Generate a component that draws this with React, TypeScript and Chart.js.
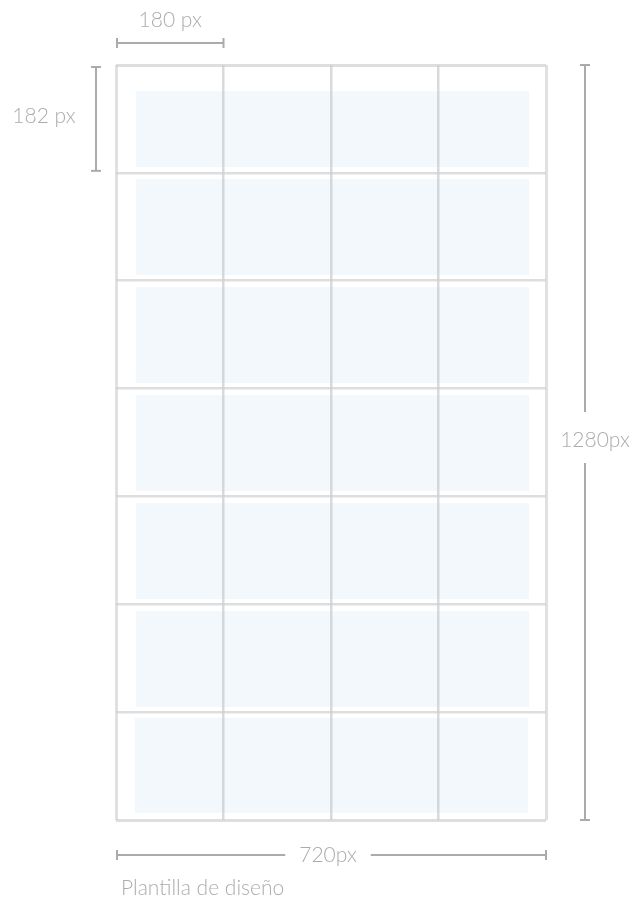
import React, { useEffect, useRef } from "react";
import { Chart, registerables } from "chart.js";

Chart.register(...registerables);

// Design units (px of the 720x1280 template)
const columnLines = [0, 180, 360, 540, 720];
const rowLines = [0, 182.86, 365.71, 548.57, 731.43, 914.29, 1097.14, 1280];

// Light-blue content bands, one per row (design units)
const bandLeft = [33.5, 33.5, 33.5, 33.5, 33.5, 33.5, 31.8];
const bandRight = [691.5, 691.5, 691.5, 691.5, 691.5, 691.5, 689.8];
const bandTop = [44.1, 193.3, 376.4, 559.5, 742.6, 925.7, 1107.1];
const bandBottom = [172.9, 356.0, 539.1, 722.2, 905.3, 1088.4, 1268.1];

// Dimension annotations
const cellWidthLabel = "180 px";
const cellHeightLabel = "182 px";
const totalHeightLabel = "1280px";
const totalWidthLabel = "720px";
const cellWidthSpan = [0, 180];
const cellHeightSpan = [0, 182.86];
const totalWidthSpan = [0, 720];
const totalHeightSpan = [0, 1280];
const captionText = "Plantilla de diseño";

const BAND_COLOR = "#f2f8fb";
const DIM_COLOR = "#ababab";
const TEXT_COLOR = "#acacac";
const FONT = "300 21px Lato";

const bandsPlugin = {
  id: "bands",
  beforeDraw(chart: any) {
    const { ctx, scales } = chart;
    const x = scales.x;
    const y = scales.y;
    ctx.save();
    ctx.fillStyle = BAND_COLOR;
    for (let i = 0; i < bandTop.length; i++) {
      const l = x.getPixelForValue(bandLeft[i]);
      const r = x.getPixelForValue(bandRight[i]);
      const t = y.getPixelForValue(bandTop[i]);
      const b = y.getPixelForValue(bandBottom[i]);
      ctx.fillRect(l, t, r - l, b - t);
    }
    ctx.restore();
  },
};

function hLine(ctx: any, x1: number, x2: number, y: number) {
  ctx.beginPath();
  ctx.moveTo(x1, y);
  ctx.lineTo(x2, y);
  ctx.stroke();
}
function vLine(ctx: any, x: number, y1: number, y2: number) {
  ctx.beginPath();
  ctx.moveTo(x, y1);
  ctx.lineTo(x, y2);
  ctx.stroke();
}

const dimensionsPlugin = {
  id: "dimensions",
  afterDraw(chart: any) {
    const { ctx, scales, chartArea } = chart;
    const x = scales.x;
    const y = scales.y;
    ctx.save();
    ctx.strokeStyle = DIM_COLOR;
    ctx.lineWidth = 2;
    ctx.fillStyle = TEXT_COLOR;
    ctx.font = FONT;
    ctx.textBaseline = "middle";
    ctx.textAlign = "center";
    const cap = 5;

    // top: cell width
    {
      const x1 = x.getPixelForValue(cellWidthSpan[0]) + 1;
      const x2 = x.getPixelForValue(cellWidthSpan[1]);
      const yy = chartArea.top - 22;
      hLine(ctx, x1, x2, yy);
      vLine(ctx, x1, yy - cap, yy + cap);
      vLine(ctx, x2, yy - cap, yy + cap);
      ctx.fillText(cellWidthLabel, (x1 + x2) / 2, chartArea.top - 45);
    }
    // left: cell height
    {
      const y1 = y.getPixelForValue(cellHeightSpan[0]) + 2;
      const y2 = y.getPixelForValue(cellHeightSpan[1]) - 2;
      const xx = chartArea.left - 20;
      vLine(ctx, xx, y1, y2);
      hLine(ctx, xx - cap, xx + cap, y1);
      hLine(ctx, xx - cap, xx + cap, y2);
      ctx.fillText(cellHeightLabel, chartArea.left - 72, (y1 + y2) / 2 - 3);
    }
    // right: total height
    {
      const y1 = y.getPixelForValue(totalHeightSpan[0]);
      const y2 = y.getPixelForValue(totalHeightSpan[1]);
      const xx = chartArea.right + 39;
      const mid = 440;
      vLine(ctx, xx, y1, mid - 28);
      vLine(ctx, xx, mid + 23, y2);
      hLine(ctx, xx - cap, xx + cap, y1);
      hLine(ctx, xx - cap, xx + cap, y2);
      ctx.fillText(totalHeightLabel, xx + 10, mid);
    }
    // bottom: total width
    {
      const x1 = x.getPixelForValue(totalWidthSpan[0]) + 1;
      const x2 = x.getPixelForValue(totalWidthSpan[1]);
      const yy = chartArea.bottom + 35;
      const mid = 328;
      const w = ctx.measureText(totalWidthLabel).width;
      hLine(ctx, x1, mid - w / 2 - 14, yy);
      hLine(ctx, mid + w / 2 + 14, x2, yy);
      vLine(ctx, x1, yy - cap, yy + cap);
      vLine(ctx, x2, yy - cap, yy + cap);
      ctx.fillText(totalWidthLabel, mid, yy);
    }
    // caption
    ctx.textAlign = "left";
    ctx.fillText(captionText, chartArea.left + 5, chartArea.bottom + 68);
    ctx.restore();
  },
};

function gridWidth(ctx: any, count: number) {
  return ctx.index === 0 || ctx.index === count - 1 ? 3 : 2.5;
}

export default function App() {
  const ref = useRef<HTMLCanvasElement | null>(null);
  useEffect(() => {
    document.body.style.margin = "0";
    if (!ref.current) return;
    const chart = new Chart(ref.current, {
      type: "scatter",
      data: { datasets: [] },
      options: {
        animation: false,
        responsive: false,
        maintainAspectRatio: false,
        events: [],
        layout: { padding: { left: 116, right: 89, top: 65, bottom: 81 } },
        plugins: {
          legend: { display: false },
          tooltip: { enabled: false },
          title: { display: false },
        },
        scales: {
          x: {
            type: "linear",
            min: columnLines[0],
            max: columnLines[columnLines.length - 1],
            afterBuildTicks: (s: any) => {
              s.ticks = columnLines.map((v) => ({ value: v }));
            },
            ticks: { display: false },
            border: { display: false },
            grid: {
              drawTicks: false,
              color: (c: any) =>
                c.index === 0 || c.index === columnLines.length - 1
                  ? "rgba(205,205,205,0.6)"
                  : "rgba(190,195,198,0.6)",
              lineWidth: (c: any) => gridWidth(c, columnLines.length),
            },
          },
          y: {
            type: "linear",
            reverse: true,
            min: rowLines[0],
            max: rowLines[rowLines.length - 1],
            afterBuildTicks: (s: any) => {
              s.ticks = rowLines.map((v) => ({ value: v }));
            },
            ticks: { display: false },
            border: { display: false },
            grid: {
              drawTicks: false,
              color: "rgba(205,205,205,0.65)",
              lineWidth: (c: any) => gridWidth(c, rowLines.length),
            },
          },
        },
      } as any,
      plugins: [bandsPlugin, dimensionsPlugin],
    });
    return () => chart.destroy();
  }, []);
  return (
    <div style={{ position: "absolute", left: 0, top: 0, width: 635, height: 901 }}>
      <canvas ref={ref} width={635} height={901} style={{ width: 635, height: 901 }} />
    </div>
  );
}
